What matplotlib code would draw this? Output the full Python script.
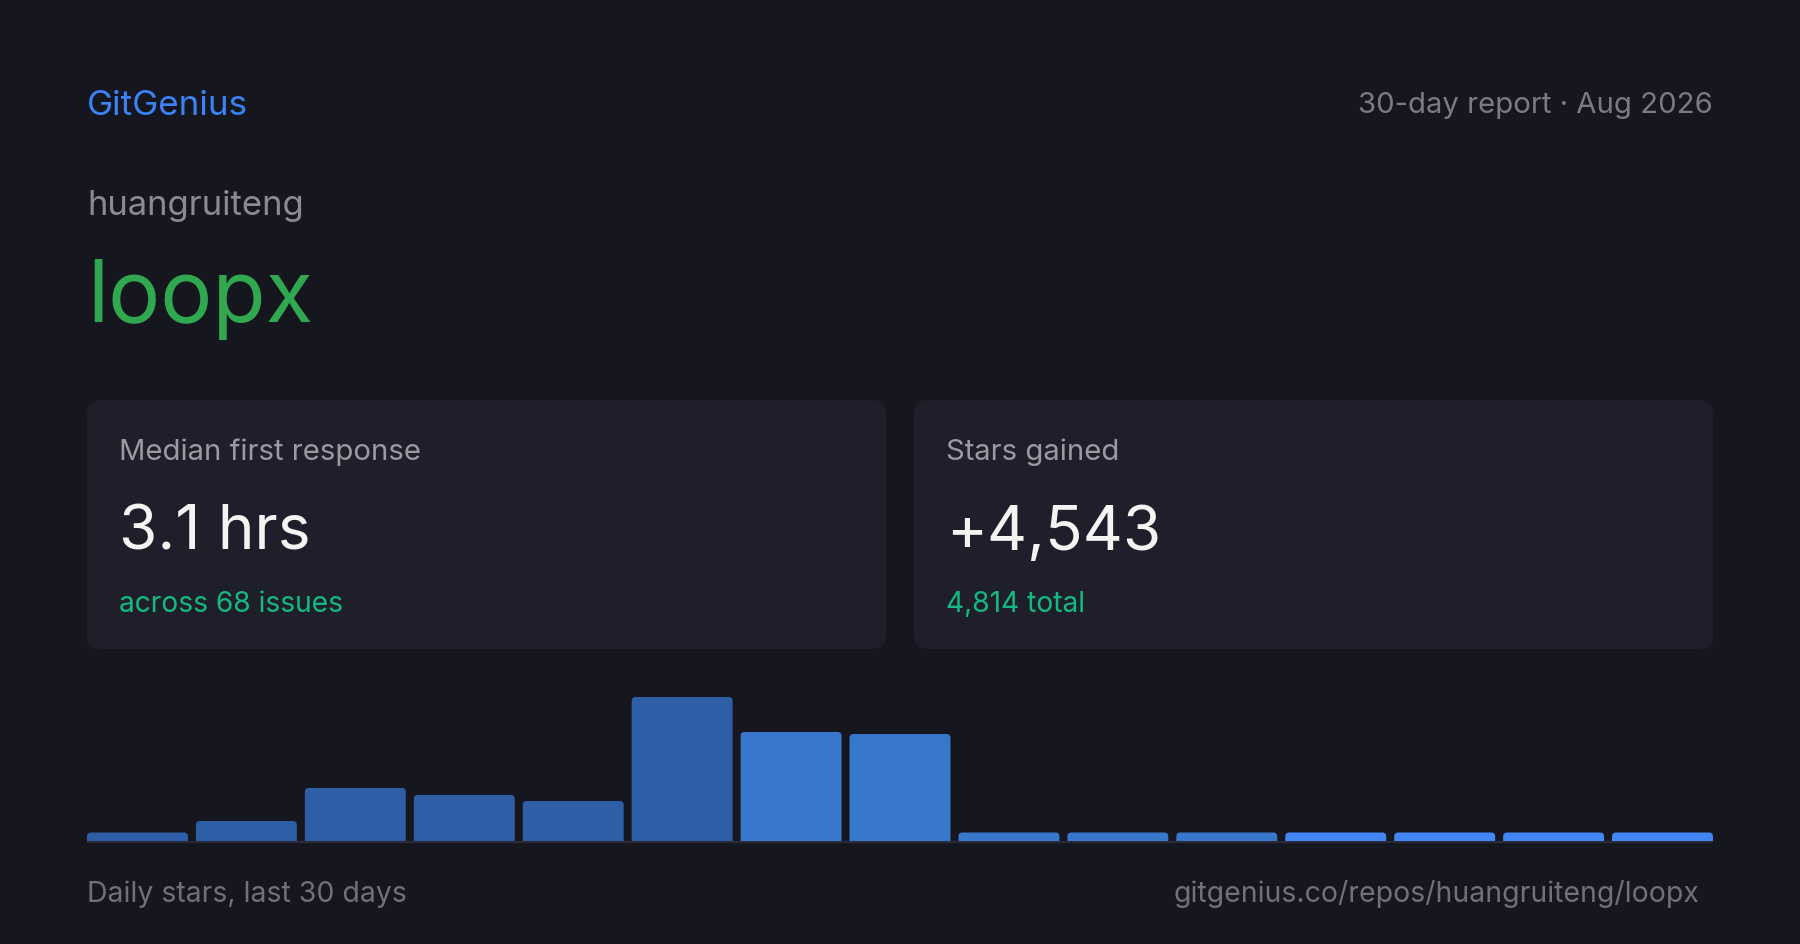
import numpy as np
import matplotlib
matplotlib.use('Agg')
import matplotlib.pyplot as plt
from matplotlib.patches import FancyBboxPatch

# data
brand = 'GitGenius'
report_label = '30-day report · Aug 2026'
owner = 'huangruiteng'
repo = 'loopx'
card_titles = ['Median first response', 'Stars gained']
card_values = ['3.1 hrs', '+4,543']
card_notes = ['across 68 issues', '4,814 total']
# stars per 2-day bucket, last 30 days
bucket_stars = [12, 175, 464, 403, 350, 1260, 954, 936, 0, 0, 0, 0, 0, 0, 0]
bucket_colors = ['#2e5ea6'] * 6 + ['#3778cc'] * 5 + ['#4287f5'] * 4
footer_left = 'Daily stars, last 30 days'
footer_right = 'gitgenius.co/repos/huangruiteng/loopx'

BG = '#16161f'
CARD = '#1f1f2b'
FONT = ['Inter', 'DejaVu Sans']
plt.rcParams['font.family'] = FONT

W, H = 1800, 945
fig = plt.figure(figsize=(W / 100, H / 100), dpi=100, facecolor=BG)

# overlay axes in pixel coords (y down)
ov = fig.add_axes([0, 0, 1, 1])
ov.set_xlim(0, W)
ov.set_ylim(H, 0)
ov.axis('off')
ov.set_facecolor(BG)

def px(v):
    return v * 0.72  # px -> pt at 100 dpi

ov.text(87, 115, brand, color='#3b82f6', fontsize=px(35), va='baseline')
ov.text(1713, 113, report_label, color='#7a7a84', fontsize=px(29.3), va='baseline', ha='right')
ov.text(87, 215, owner, color='#8a8a94', fontsize=px(34.6), va='baseline')
ov.text(87, 322, repo, color='#2fa84f', fontsize=px(87), va='baseline')

# cards
card_x = [87, 914]
card_w = 799
for i in range(2):
    box = FancyBboxPatch((card_x[i], 401), card_w, 249,
                         boxstyle='round,pad=0,rounding_size=14',
                         fc=CARD, ec='none')
    ov.add_patch(box)
    tx = card_x[i] + 32
    ov.text(tx, 460, card_titles[i], color='#9a9aa3', fontsize=px(29.3), va='baseline')
    ov.text(tx, 550, card_values[i], color='#f4f4f2', fontsize=px(62), va='baseline')
    ov.text(tx, 612, card_notes[i], color='#15b880', fontsize=px(28.2), va='baseline')

# bar chart
bar_left, bar_right = 87, 1713
base_y, top_px = 842, 150
ax = fig.add_axes([bar_left / W, 1 - base_y / H, (bar_right - bar_left) / W, top_px / H])
ax.set_facecolor('none')
ax.axis('off')
n = len(bucket_stars)
bw = 101 / 109
x = np.arange(n)
ymax = max(bucket_stars) * top_px / 144
ax.set_xlim(-bw / 2, n - 1 + bw / 2)
ax.set_ylim(0, ymax)
min_h = 8.5 / 144 * max(bucket_stars)
heights = np.maximum(np.array(bucket_stars, dtype=float), min_h)
bars = ax.bar(x, heights, width=bw, color=bucket_colors)

# rounded tops
x_per_px = (n - 1 + bw) / (bar_right - bar_left)
y_per_px = ymax / top_px
r_px = 4
for rect, c in zip(bars, bucket_colors):
    rx, ry = rect.get_x(), rect.get_y()
    rw, rh = rect.get_width(), rect.get_height()
    rect.remove()
    extra = r_px * y_per_px
    p = FancyBboxPatch((rx, ry - extra), rw, rh + extra,
                       boxstyle='round,pad=0,rounding_size=%f' % (r_px * x_per_px),
                       mutation_aspect=y_per_px / x_per_px,
                       fc=c, ec='none', clip_on=True)
    ax.add_patch(p)
    p.set_clip_path(ax.patch)

ov.plot([bar_left, bar_right], [843, 843], color='#2a2a38', lw=px(2.2), solid_capstyle='butt')

ov.text(87, 902, footer_left, color='#70707a', fontsize=px(28.4), va='baseline')
ov.text(1699, 902, footer_right, color='#70707a', fontsize=px(28.4), va='baseline', ha='right')

fig.savefig('out.png', dpi=100, facecolor=BG)
